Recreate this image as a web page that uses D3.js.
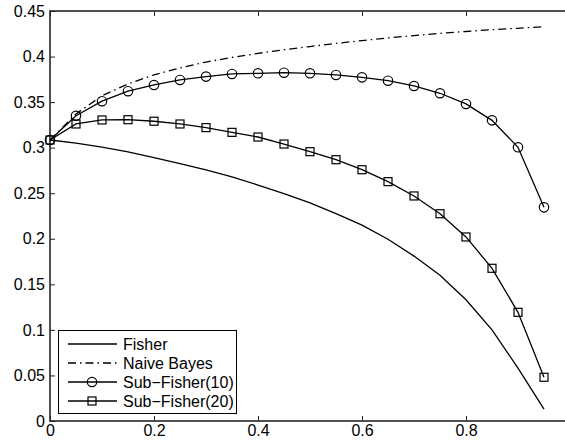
<!DOCTYPE html>
<html>
<head>
<meta charset="utf-8">
<script src="https://cdn.jsdelivr.net/npm/d3@7"></script>
<style>
  body { margin: 0; background: #fff; }
  svg { display: block; font-family: "Liberation Sans", Arial, sans-serif; }
</style>
</head>
<body>
<div id="chart"></div>
<script>
const xs = [0, 0.05, 0.1, 0.15, 0.2, 0.25, 0.3, 0.35, 0.4, 0.45, 0.5,
  0.55, 0.6, 0.65, 0.7, 0.75, 0.8, 0.85, 0.9, 0.95];

const fisher = [0.3084, 0.305, 0.3005, 0.2955, 0.289, 0.2825, 0.2755, 0.268,
  0.259, 0.2495, 0.2395, 0.2275, 0.215, 0.1995, 0.181, 0.160, 0.133, 0.100,
  0.058, 0.013];
const naiveBayes = [0.3084, 0.337, 0.357, 0.370, 0.380, 0.3875, 0.394, 0.399,
  0.4035, 0.4075, 0.411, 0.4145, 0.4175, 0.4205, 0.423, 0.4255, 0.4275,
  0.4295, 0.431, 0.4328];
const subFisher10 = [0.3084, 0.335, 0.351, 0.362, 0.3688, 0.3743, 0.378,
  0.3809, 0.3816, 0.3823, 0.3816, 0.3798, 0.3772, 0.3735, 0.3677, 0.3597,
  0.348, 0.330, 0.3004, 0.2345];
const subFisher20 = [0.3084, 0.326, 0.3304, 0.3307, 0.329, 0.326, 0.322,
  0.3168, 0.3117, 0.304, 0.2956, 0.2868, 0.2758, 0.2627, 0.247, 0.2275,
  0.202, 0.1676, 0.1193, 0.048];

const xTicks = [0, 0.2, 0.4, 0.6, 0.8];
const yTicks = [0, 0.05, 0.1, 0.15, 0.2, 0.25, 0.3, 0.35, 0.4, 0.45];

const series = [
  { name: "Fisher", values: fisher, dash: null, marker: null },
  { name: "Naive Bayes", values: naiveBayes, dash: "8,4,1.5,4", marker: null },
  { name: "Sub\u2212Fisher(10)", values: subFisher10, dash: null, marker: "circle" },
  { name: "Sub\u2212Fisher(20)", values: subFisher20, dash: null, marker: "square" }
];

const width = 565, height = 443;
const m = { left: 50, top: 11, right: 570, bottom: 421 };

const x = d3.scaleLinear().domain([0, 1]).range([m.left, m.right]);
const y = d3.scaleLinear().domain([0, 0.45]).range([m.bottom, m.top]);

const svg = d3.select("#chart").append("svg")
  .attr("width", width).attr("height", height)
  .attr("viewBox", [0, 0, width, height]);

const fmt = d => d === 0 ? "0" : String(+d.toFixed(2));

// axes with inward ticks
const gx = svg.append("g").attr("transform", `translate(0,${m.bottom})`)
  .call(d3.axisBottom(x).tickValues(xTicks).tickSize(-5).tickPadding(4).tickFormat(fmt));
const gxt = svg.append("g").attr("transform", `translate(0,${m.top})`)
  .call(d3.axisTop(x).tickValues(xTicks).tickSize(-5).tickFormat(""));
const gy = svg.append("g").attr("transform", `translate(${m.left},0)`)
  .call(d3.axisLeft(y).tickValues(yTicks).tickSize(-5).tickPadding(5).tickFormat(fmt));

[gx, gxt, gy].forEach(g => {
  g.selectAll(".domain").remove();
  g.selectAll(".tick line").attr("stroke", "#222").attr("stroke-width", 1);
  g.selectAll("text").attr("font-size", 16).attr("fill", "#000")
    .attr("font-family", "'Liberation Sans', Arial, sans-serif");
});

// frame
svg.append("rect")
  .attr("x", m.left).attr("y", m.top)
  .attr("width", m.right - m.left).attr("height", m.bottom - m.top)
  .attr("fill", "none").attr("stroke", "#262626").attr("stroke-width", 1.6);

const line = d3.line().x((d, i) => x(xs[i])).y(d => y(d));

const plot = svg.append("g");
series.forEach(s => {
  plot.append("path")
    .attr("d", line(s.values))
    .attr("fill", "none").attr("stroke", "#000").attr("stroke-width", 1.3)
    .attr("stroke-dasharray", s.dash);
});

function drawMarker(g, type, cx, cy) {
  if (type === "circle") {
    g.append("circle").attr("cx", cx).attr("cy", cy).attr("r", 4.7)
      .attr("fill", "none").attr("stroke", "#000").attr("stroke-width", 1.2);
  } else if (type === "square") {
    g.append("rect").attr("x", cx - 4).attr("y", cy - 4)
      .attr("width", 8).attr("height", 8)
      .attr("fill", "none").attr("stroke", "#000").attr("stroke-width", 1.2);
  }
}

series.filter(s => s.marker).forEach(s => {
  s.values.forEach((v, i) => drawMarker(plot, s.marker, x(xs[i]), y(v)));
});

// legend
const lg = svg.append("g");
lg.append("rect")
  .attr("x", 58.5).attr("y", 330.5).attr("width", 178).attr("height", 83)
  .attr("fill", "#fff").attr("stroke", "#000").attr("stroke-width", 1);

series.forEach((s, i) => {
  const ly = 344 + i * 19;
  lg.append("line")
    .attr("x1", 68).attr("x2", 117).attr("y1", ly).attr("y2", ly)
    .attr("stroke", "#000").attr("stroke-width", 1.3)
    .attr("stroke-dasharray", s.dash);
  if (s.marker) drawMarker(lg, s.marker, 92, ly);
  lg.append("text")
    .attr("x", 123).attr("y", ly).attr("dy", "0.36em")
    .attr("font-size", 16).attr("fill", "#000")
    .text(s.name);
});
</script>
</body>
</html>
